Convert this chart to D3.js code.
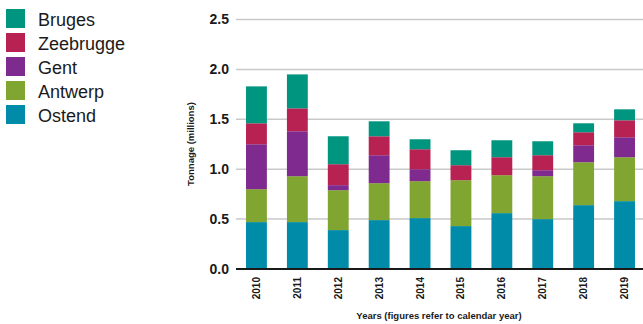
<!DOCTYPE html>
<html>
<head>
<meta charset="utf-8">
<script src="https://cdn.jsdelivr.net/npm/d3@7"></script>
<style>
  html, body { margin: 0; padding: 0; background: #fff; }
  svg { display: block; font-family: "Liberation Sans", Arial, Helvetica, sans-serif; }
</style>
</head>
<body>
<svg id="chart" width="643" height="324"></svg>
<script>
// Tonnage per port and year, in millions
const years = ["2010", "2011", "2012", "2013", "2014", "2015", "2016", "2017", "2018", "2019"];
const ostend    = [0.47, 0.47, 0.39, 0.49, 0.51, 0.43, 0.56, 0.50, 0.64, 0.68];
const antwerp   = [0.33, 0.46, 0.40, 0.37, 0.37, 0.46, 0.38, 0.43, 0.43, 0.44];
const gent      = [0.45, 0.45, 0.05, 0.28, 0.12, 0.00, 0.00, 0.06, 0.17, 0.20];
const zeebrugge = [0.21, 0.23, 0.21, 0.19, 0.20, 0.15, 0.18, 0.15, 0.13, 0.17];
const bruges    = [0.37, 0.34, 0.28, 0.15, 0.10, 0.15, 0.17, 0.14, 0.09, 0.11];
const yTicks = [0, 0.5, 1.0, 1.5, 2.0, 2.5];

// stacking order bottom to top; legend lists top to bottom
const series = [
  { name: "Ostend",    values: ostend,    color: "#008ca9" },
  { name: "Antwerp",   values: antwerp,   color: "#80a531" },
  { name: "Gent",      values: gent,      color: "#7e2a8e" },
  { name: "Zeebrugge", values: zeebrugge, color: "#b82252" },
  { name: "Bruges",    values: bruges,    color: "#00957f" }
];

const rows = years.map((yr, i) => {
  const r = { year: yr };
  series.forEach(s => { r[s.name] = s.values[i]; });
  return r;
});

const svg = d3.select("#chart");
const plotLeft = 236, plotRight = 643, plotTop = 19.5, plotBottom = 269;

const x = d3.scaleBand().domain(years).range([plotLeft, plotRight + 2])
  .paddingInner(0.49).paddingOuter(0.245);
const y = d3.scaleLinear().domain([0, 2.5]).range([plotBottom, plotTop]);

// gridlines
svg.append("g")
  .selectAll("line").data(yTicks.filter(t => t > 0)).join("line")
  .attr("x1", plotLeft).attr("x2", plotRight)
  .attr("y1", d => y(d)).attr("y2", d => y(d))
  .attr("stroke", "#c9c9c9").attr("stroke-width", 1.5);

// stacked bars
const stack = d3.stack().keys(series.map(s => s.name));
const layers = stack(rows);
const color = d3.scaleOrdinal().domain(series.map(s => s.name)).range(series.map(s => s.color));

svg.append("g").selectAll("g").data(layers).join("g")
  .attr("fill", d => color(d.key))
  .selectAll("rect").data(d => d).join("rect")
  .attr("x", d => x(d.data.year))
  .attr("width", x.bandwidth())
  .attr("y", d => y(d[1]))
  .attr("height", d => Math.max(0, y(d[0]) - y(d[1])));

// y axis labels
const yAxis = d3.axisLeft(y).tickValues(yTicks).tickFormat(d3.format(".1f")).tickSize(0).tickPadding(7);
const yg = svg.append("g").attr("transform", `translate(${plotLeft},0)`).call(yAxis);
yg.select(".domain").remove();
yg.selectAll("text")
  .attr("font-size", 14).attr("font-weight", "bold").attr("fill", "#1a1a1a")
  .attr("font-family", "'Liberation Sans', Arial, sans-serif");

// x axis
const xAxis = d3.axisBottom(x).tickSize(0).tickPadding(0);
const xg = svg.append("g").attr("transform", `translate(0,${plotBottom})`).call(xAxis);
xg.select(".domain").remove();
xg.selectAll("text")
  .attr("font-size", 10).attr("font-weight", "bold").attr("fill", "#1a1a1a")
  .attr("font-family", "'Liberation Sans', Arial, sans-serif")
  .attr("transform", "rotate(-90)")
  .attr("text-anchor", "end")
  .attr("x", -8).attr("y", 0).attr("dy", "0.35em");

// baseline
svg.append("line")
  .attr("x1", plotLeft).attr("x2", plotRight)
  .attr("y1", plotBottom).attr("y2", plotBottom)
  .attr("stroke", "#1a1a1a").attr("stroke-width", 2);

// axis titles
svg.append("text")
  .attr("transform", `translate(194,144) rotate(-90)`)
  .attr("text-anchor", "middle")
  .attr("font-size", 9.5).attr("font-weight", "bold").attr("fill", "#1a1a1a")
  .text("Tonnage (millions)");

svg.append("text")
  .attr("x", 439).attr("y", 319)
  .attr("text-anchor", "middle")
  .attr("font-size", 9.5).attr("font-weight", "bold").attr("fill", "#1a1a1a")
  .text("Years (figures refer to calendar year)");

// legend
const legendItems = series.slice().reverse();
const lg = svg.append("g").selectAll("g").data(legendItems).join("g")
  .attr("transform", (d, i) => `translate(6,${9 + i * 24})`);
lg.append("rect").attr("width", 19).attr("height", 19).attr("fill", d => d.color);
lg.append("text").attr("x", 32).attr("y", 16.5)
  .attr("font-size", 18).attr("fill", "#1a1a1a")
  .text(d => d.name);
</script>
</body>
</html>
